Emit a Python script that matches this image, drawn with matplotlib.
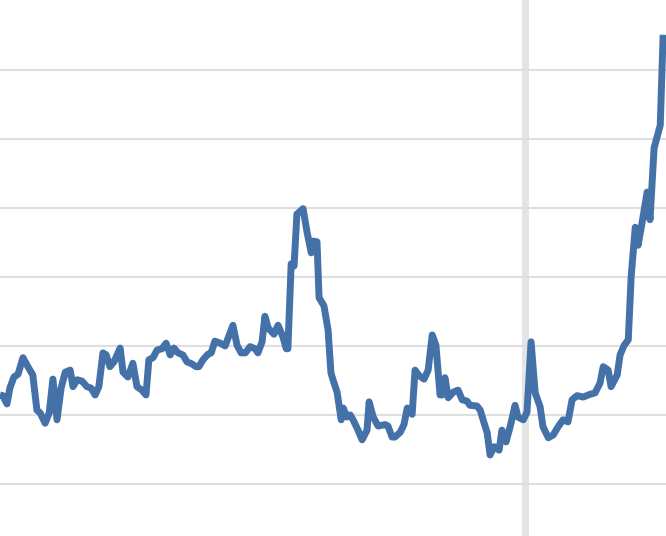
import matplotlib
matplotlib.use("Agg")
import matplotlib.pyplot as plt

# month index (from start of series) and value
months = [0.0, 0.7, 1.7, 2.4, 3.4, 4.4, 5.6, 6.8, 8.0, 9.0, 9.8, 11.0, 12.0, 12.9,
          13.9, 14.9, 15.9, 17.1, 17.8, 18.8, 20.0, 21.2, 22.2, 23.2, 24.1, 25.1,
          25.9, 26.8, 27.8, 29.3, 30.0, 31.2, 32.4, 33.4, 34.6, 35.6, 36.3, 37.3,
          38.3, 39.5, 40.5, 41.5, 42.4, 43.4, 44.6, 45.6, 46.8, 47.8, 48.5, 49.5,
          50.7, 51.5, 52.4, 53.7, 54.9, 56.8, 57.8, 58.8, 59.8, 61.0, 62.2, 62.9,
          63.9, 64.6, 65.4, 66.8, 67.8, 69.0, 69.8, 70.2, 71.0, 71.7, 72.4, 73.9,
          74.9, 75.9, 76.3, 77.3, 77.8, 79.0, 80.0, 80.7, 81.2, 82.2, 83.2, 83.7,
          84.6, 85.4, 86.1, 87.3, 88.3, 89.5, 90.0, 91.0, 92.2, 93.9, 94.6, 95.6,
          96.3, 97.6, 98.5, 99.3, 100.5, 101.2, 102.2, 103.4, 104.4, 105.4, 106.3,
          107.3, 107.8, 108.5, 109.3, 110.5, 111.7, 112.7, 113.9, 114.6, 116.3,
          117.1, 117.8, 118.8, 119.5, 120.5, 121.7, 122.4, 123.4, 124.4, 125.6,
          126.3, 127.6, 128.5, 129.5, 130.5, 131.7, 132.4, 133.7, 134.9, 136.1,
          137.3, 138.5, 139.5, 140.7, 142.2, 143.9, 145.1, 146.3, 147.1, 148.3,
          149.0, 150.5, 151.2, 152.2, 153.2, 153.9, 154.9, 155.6, 156.6, 157.8,
          158.5, 159.5, 161.0, 161.7]
values = [2.29, 2.28, 2.16, 2.39, 2.55, 2.59, 2.83, 2.70, 2.58, 2.07, 2.03, 1.88, 2.03, 2.52,
          1.93, 2.39, 2.62, 2.65, 2.41, 2.51, 2.49, 2.41, 2.39, 2.29, 2.41, 2.90,
          2.87, 2.70, 2.77, 2.97, 2.62, 2.55, 2.75, 2.41, 2.36, 2.29, 2.80, 2.83,
          2.94, 2.96, 3.04, 2.87, 2.97, 2.90, 2.87, 2.77, 2.74, 2.70, 2.70, 2.80,
          2.88, 2.90, 3.07, 3.04, 3.00, 3.30, 3.01, 2.90, 2.90, 2.99, 2.96, 2.90,
          3.06, 3.43, 3.26, 3.17, 3.30, 3.13, 2.96, 2.96, 4.19, 4.16, 4.91, 4.99,
          4.64, 4.35, 4.52, 4.51, 3.70, 3.58, 3.23, 2.61, 2.51, 2.33, 1.93, 2.10,
          1.97, 2.00, 1.93, 1.78, 1.64, 1.78, 2.19, 1.97, 1.84, 1.86, 1.84, 1.68,
          1.68, 1.75, 1.86, 2.10, 2.01, 2.65, 2.57, 2.52, 2.65, 3.16, 3.01,
          2.29, 2.29, 2.54, 2.25, 2.33, 2.36, 2.22, 2.20, 2.14, 2.13,
          2.07, 1.93, 1.74, 1.42, 1.54, 1.49, 1.78, 1.61, 1.83, 2.14,
          1.97, 1.93, 2.04, 3.06, 2.32, 2.12, 1.83, 1.67, 1.71, 1.83,
          1.93, 1.90, 2.22, 2.28, 2.26, 2.30, 2.32, 2.46, 2.70, 2.65,
          2.41, 2.58, 2.87, 3.01, 3.09, 4.00, 4.72, 4.46, 4.80, 5.23,
          4.83, 5.87, 6.20, 7.51]

shade_start, shade_end = 127.3, 129.0
grid_levels = [1, 2, 3, 4, 5, 6, 7]

fig = plt.figure(figsize=(6.66, 5.36), dpi=100)
ax = fig.add_axes([0, 0, 1, 1])

ax.axvspan(shade_start, shade_end, color="#e5e5e5", lw=0, zorder=0)
for g in grid_levels:
    ax.axhline(g, color="#dfdfdf", lw=1.5, zorder=1)

ax.plot(months, values, color="#4571a9", lw=5, solid_joinstyle="round",
        solid_capstyle="butt", zorder=3)

ax.set_xlim(0, 162.4)
ax.set_ylim(0.246, 8.014)
ax.axis("off")

fig.savefig("out.png", dpi=100)
